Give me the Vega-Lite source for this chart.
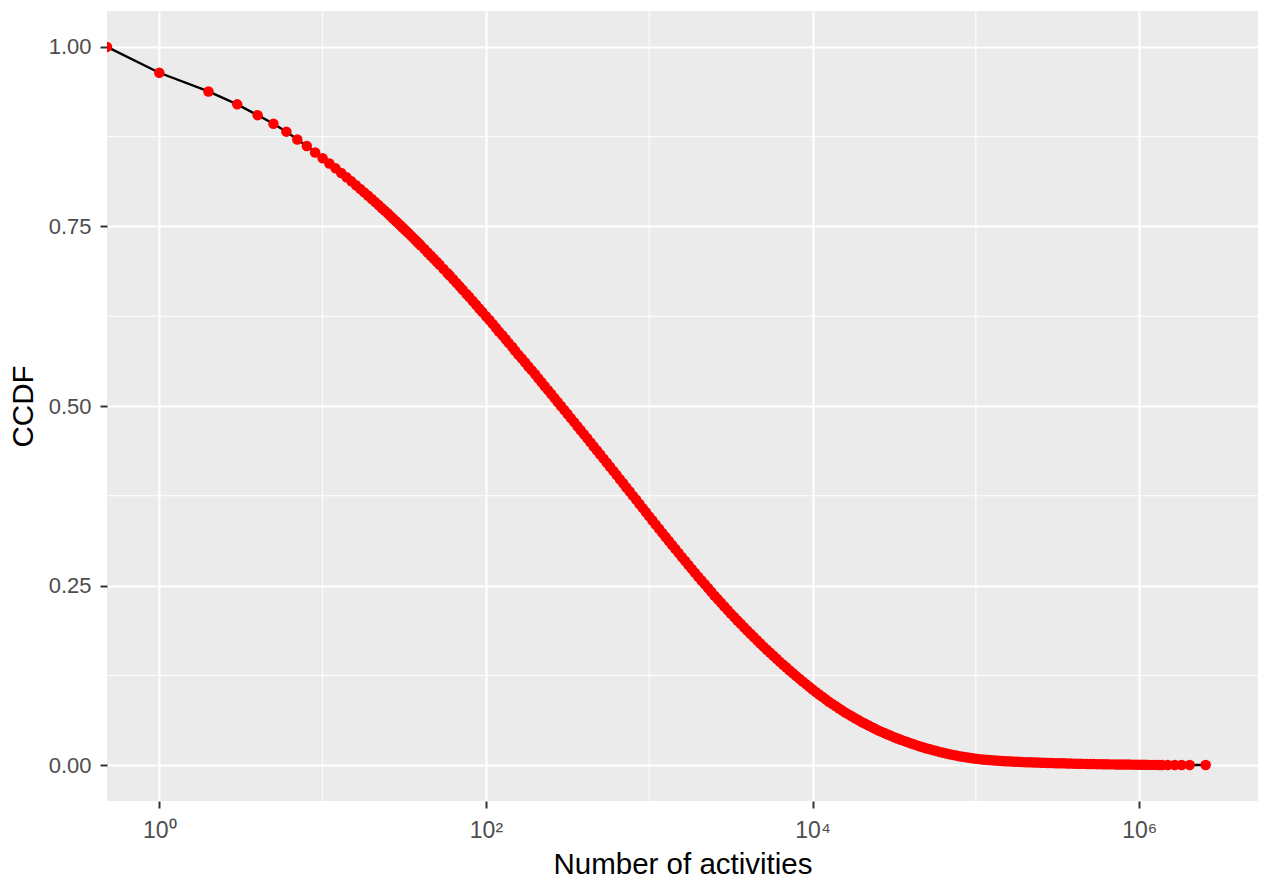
{
"$schema":"https://vega.github.io/schema/vega-lite/v6.json",
"width":1151,"height":790,
"autosize":{"type":"none"},
"padding":{"left":107,"top":11,"right":7,"bottom":78},
"background":"#FFFFFF",
"datasets":{
"ccdf":[
{"n":0.4783,"ccdf":1},{"n":1,"ccdf":0.964},{"n":2,"ccdf":0.938},{"n":3,"ccdf":0.92},{"n":4,"ccdf":0.905},{"n":5,"ccdf":0.893},{"n":6,"ccdf":0.882},{"n":7,"ccdf":0.871},{"n":8,"ccdf":0.862},{"n":9,"ccdf":0.853},{"n":10,"ccdf":0.845},
{"n":11,"ccdf":0.8377},{"n":12,"ccdf":0.8309},{"n":13,"ccdf":0.8245},{"n":14,"ccdf":0.8185},{"n":15,"ccdf":0.8128},{"n":16,"ccdf":0.8074},{"n":17,"ccdf":0.8023},{"n":18,"ccdf":0.7974},{"n":19,"ccdf":0.7927},{"n":20,"ccdf":0.7882},
{"n":21,"ccdf":0.7839},{"n":22,"ccdf":0.7798},{"n":23,"ccdf":0.7758},{"n":24,"ccdf":0.772},{"n":25,"ccdf":0.7683},{"n":26,"ccdf":0.7646},{"n":27,"ccdf":0.7611},{"n":28,"ccdf":0.7577},{"n":29,"ccdf":0.7545},{"n":30,"ccdf":0.7513},
{"n":31,"ccdf":0.7481},{"n":32,"ccdf":0.7451},{"n":33,"ccdf":0.7422},{"n":34,"ccdf":0.7393},{"n":35,"ccdf":0.7365},{"n":36,"ccdf":0.7337},{"n":37,"ccdf":0.731},{"n":38,"ccdf":0.7284},{"n":39,"ccdf":0.7258},{"n":40,"ccdf":0.7233},
{"n":42,"ccdf":0.7185},{"n":44,"ccdf":0.7138},{"n":46,"ccdf":0.7092},{"n":48,"ccdf":0.7049},{"n":50,"ccdf":0.7007},{"n":52,"ccdf":0.6966},{"n":55,"ccdf":0.6908},{"n":58,"ccdf":0.6852},{"n":60,"ccdf":0.6816},{"n":63,"ccdf":0.6764},
{"n":66,"ccdf":0.6714},{"n":69,"ccdf":0.6666},{"n":72,"ccdf":0.6619},{"n":76,"ccdf":0.656},{"n":79,"ccdf":0.6517},{"n":83,"ccdf":0.6461},{"n":87,"ccdf":0.6409},{"n":91,"ccdf":0.6358},{"n":95,"ccdf":0.6309},{"n":100,"ccdf":0.625},
{"n":105,"ccdf":0.6197},{"n":110,"ccdf":0.6143},{"n":115,"ccdf":0.609},{"n":120,"ccdf":0.6037},{"n":126,"ccdf":0.5984},{"n":132,"ccdf":0.593},{"n":138,"ccdf":0.5876},{"n":145,"ccdf":0.5822},{"n":151,"ccdf":0.5768},{"n":158,"ccdf":0.5714},
{"n":166,"ccdf":0.566},{"n":174,"ccdf":0.5605},{"n":182,"ccdf":0.5551},{"n":191,"ccdf":0.5496},{"n":200,"ccdf":0.5442},{"n":209,"ccdf":0.5386},{"n":219,"ccdf":0.5331},{"n":229,"ccdf":0.5276},{"n":240,"ccdf":0.5221},{"n":251,"ccdf":0.5166},
{"n":263,"ccdf":0.511},{"n":275,"ccdf":0.5055},{"n":288,"ccdf":0.4999},{"n":302,"ccdf":0.4943},{"n":316,"ccdf":0.4888},{"n":331,"ccdf":0.4831},{"n":347,"ccdf":0.4775},{"n":363,"ccdf":0.4719},{"n":380,"ccdf":0.4663},{"n":398,"ccdf":0.4607},
{"n":417,"ccdf":0.455},{"n":437,"ccdf":0.4493},{"n":457,"ccdf":0.4437},{"n":479,"ccdf":0.438},{"n":501,"ccdf":0.4324},{"n":525,"ccdf":0.4267},{"n":550,"ccdf":0.421},{"n":575,"ccdf":0.4153},{"n":603,"ccdf":0.4096},{"n":631,"ccdf":0.4039},
{"n":661,"ccdf":0.3981},{"n":692,"ccdf":0.3924},{"n":724,"ccdf":0.3866},{"n":759,"ccdf":0.3809},{"n":794,"ccdf":0.3752},{"n":832,"ccdf":0.3694},{"n":871,"ccdf":0.3636},{"n":912,"ccdf":0.3578},{"n":955,"ccdf":0.352},{"n":1000,"ccdf":0.3463},
{"n":1047,"ccdf":0.3405},{"n":1096,"ccdf":0.3348},{"n":1148,"ccdf":0.329},{"n":1202,"ccdf":0.3233},{"n":1259,"ccdf":0.3176},{"n":1318,"ccdf":0.312},{"n":1380,"ccdf":0.3064},{"n":1445,"ccdf":0.3008},{"n":1514,"ccdf":0.2952},{"n":1585,"ccdf":0.2896},
{"n":1660,"ccdf":0.2841},{"n":1738,"ccdf":0.2787},{"n":1820,"ccdf":0.2732},{"n":1905,"ccdf":0.2677},{"n":1995,"ccdf":0.2623},{"n":2089,"ccdf":0.257},{"n":2188,"ccdf":0.2517},{"n":2291,"ccdf":0.2465},{"n":2399,"ccdf":0.2412},{"n":2512,"ccdf":0.2359},
{"n":2630,"ccdf":0.2309},{"n":2754,"ccdf":0.2259},{"n":2884,"ccdf":0.2209},{"n":3020,"ccdf":0.2159},{"n":3162,"ccdf":0.2109},{"n":3311,"ccdf":0.2062},{"n":3467,"ccdf":0.2014},{"n":3631,"ccdf":0.1967},{"n":3802,"ccdf":0.192},{"n":3981,"ccdf":0.1873},
{"n":4169,"ccdf":0.1828},{"n":4365,"ccdf":0.1783},{"n":4571,"ccdf":0.1738},{"n":4786,"ccdf":0.1694},{"n":5012,"ccdf":0.1649},{"n":5248,"ccdf":0.1607},{"n":5495,"ccdf":0.1564},{"n":5754,"ccdf":0.1522},{"n":6026,"ccdf":0.148},{"n":6310,"ccdf":0.1437},
{"n":6607,"ccdf":0.1398},{"n":6918,"ccdf":0.1358},{"n":7244,"ccdf":0.1318},{"n":7586,"ccdf":0.1279},{"n":7943,"ccdf":0.1239},{"n":8318,"ccdf":0.1201},{"n":8710,"ccdf":0.1164},{"n":9120,"ccdf":0.1127},{"n":9550,"ccdf":0.109},{"n":10000,"ccdf":0.1052},
{"n":10471,"ccdf":0.1018},{"n":10965,"ccdf":0.0984},{"n":11482,"ccdf":0.095},{"n":12023,"ccdf":0.0916},{"n":12589,"ccdf":0.0882},{"n":13183,"ccdf":0.0852},{"n":13804,"ccdf":0.0822},{"n":14454,"ccdf":0.0792},{"n":15136,"ccdf":0.0762},{"n":15849,"ccdf":0.0732},
{"n":16596,"ccdf":0.0706},{"n":17378,"ccdf":0.068},{"n":18197,"ccdf":0.0653},{"n":19055,"ccdf":0.0627},{"n":19953,"ccdf":0.0601},{"n":20893,"ccdf":0.0578},{"n":21878,"ccdf":0.0555},{"n":22909,"ccdf":0.0532},{"n":23988,"ccdf":0.0509},{"n":25119,"ccdf":0.0486},
{"n":26303,"ccdf":0.0466},{"n":27542,"ccdf":0.0447},{"n":28840,"ccdf":0.0427},{"n":30200,"ccdf":0.0407},{"n":31623,"ccdf":0.0387},{"n":33113,"ccdf":0.037},{"n":34674,"ccdf":0.0354},{"n":36308,"ccdf":0.0337},{"n":38019,"ccdf":0.032},{"n":39811,"ccdf":0.0303},
{"n":41687,"ccdf":0.0289},{"n":43652,"ccdf":0.0274},{"n":45709,"ccdf":0.026},{"n":47863,"ccdf":0.0245},{"n":50119,"ccdf":0.0231},{"n":52481,"ccdf":0.0219},{"n":54954,"ccdf":0.0207},{"n":57544,"ccdf":0.0195},{"n":60256,"ccdf":0.0183},{"n":63096,"ccdf":0.0171},
{"n":66069,"ccdf":0.0162},{"n":69183,"ccdf":0.0152},{"n":72444,"ccdf":0.0142},{"n":75858,"ccdf":0.0133},{"n":79433,"ccdf":0.0123},{"n":83176,"ccdf":0.0116},{"n":87096,"ccdf":0.0109},{"n":91201,"ccdf":0.0102},{"n":95499,"ccdf":0.0094},{"n":100000,"ccdf":0.0087},
{"n":104713,"ccdf":0.0083},{"n":109648,"ccdf":0.0078},{"n":114815,"ccdf":0.0074},{"n":120226,"ccdf":0.007},{"n":125893,"ccdf":0.0066},{"n":131826,"ccdf":0.0063},{"n":138038,"ccdf":0.006},{"n":144544,"ccdf":0.0057},{"n":151356,"ccdf":0.0054},{"n":158489,"ccdf":0.0052},
{"n":165959,"ccdf":0.0049},{"n":173780,"ccdf":0.0047},{"n":181970,"ccdf":0.0045},{"n":190546,"ccdf":0.0043},{"n":199526,"ccdf":0.0041},{"n":208930,"ccdf":0.0039},{"n":218776,"ccdf":0.0038},{"n":229087,"ccdf":0.0036},{"n":239883,"ccdf":0.0035},{"n":251189,"ccdf":0.0033},
{"n":263027,"ccdf":0.0032},{"n":275423,"ccdf":0.003},{"n":288403,"ccdf":0.0029},{"n":301995,"ccdf":0.0027},{"n":316228,"ccdf":0.0026},{"n":331131,"ccdf":0.0025},{"n":346737,"ccdf":0.0024},{"n":363078,"ccdf":0.0022},{"n":380189,"ccdf":0.0021},{"n":398107,"ccdf":0.002},
{"n":416869,"ccdf":0.0019},{"n":436516,"ccdf":0.0018},{"n":457088,"ccdf":0.0017},{"n":478630,"ccdf":0.0016},{"n":501187,"ccdf":0.0015},{"n":524807,"ccdf":0.0014},{"n":549541,"ccdf":0.0013},{"n":575440,"ccdf":0.0013},{"n":602560,"ccdf":0.0012},{"n":630957,"ccdf":0.0011},
{"n":660693,"ccdf":0.001},{"n":691831,"ccdf":0.001},{"n":724436,"ccdf":0.0009},{"n":758578,"ccdf":0.0009},{"n":794328,"ccdf":0.0008},{"n":831764,"ccdf":0.0007},{"n":870964,"ccdf":0.0007},{"n":912011,"ccdf":0.0006},{"n":954993,"ccdf":0.0006},{"n":1000000,"ccdf":0.0005},
{"n":1047129,"ccdf":0.0004},{"n":1096478,"ccdf":0.0004},{"n":1148154,"ccdf":0.0003},{"n":1202264,"ccdf":0.0003},{"n":1258925,"ccdf":0.0003},{"n":1318257,"ccdf":0.0002},{"n":1380384,"ccdf":0.0002},
{"n":1496000,"ccdf":0.0002},{"n":1652000,"ccdf":0.0001},{"n":1821000,"ccdf":0.0001},{"n":2037000,"ccdf":0.0001},{"n":2553000,"ccdf":0.00005}
],
"minorx":[{"v":10},{"v":1000},{"v":100000}],
"minory":[{"v":0.125},{"v":0.375},{"v":0.625},{"v":0.875}]
},
"layer":[
{"data":{"name":"minorx"},"mark":{"type":"rule","color":"#FFFFFF","strokeWidth":1},
 "encoding":{"x":{"field":"v","type":"quantitative","scale":{"type":"log","domain":[0.4783,5339000],"nice":false}}}},
{"data":{"name":"minory"},"mark":{"type":"rule","color":"#FFFFFF","strokeWidth":1},
 "encoding":{"y":{"field":"v","type":"quantitative","scale":{"domain":[-0.05,1.05],"nice":false,"zero":false}}}},
{"data":{"name":"ccdf"},"mark":{"type":"line","color":"#000000","strokeWidth":2.4,"clip":true},
 "encoding":{
  "x":{"field":"n","type":"quantitative","sort":null,"scale":{"type":"log","domain":[0.4783,5339000],"nice":false},
   "axis":{"values":[1,100,10000,1000000],"labelExpr":"datum.value==1?'10⁰':datum.value==100?'10²':datum.value==10000?'10⁴':'10⁶'","title":"Number of activities","labelPadding":11,"titlePadding":8,"labelFontSize":23}},
  "y":{"field":"ccdf","type":"quantitative","scale":{"domain":[-0.05,1.05],"nice":false,"zero":false},
   "axis":{"values":[0,0.25,0.5,0.75,1],"format":".2f","title":"CCDF","labelPadding":9,"titlePadding":10}}}},
{"data":{"name":"ccdf"},"mark":{"type":"point","filled":true,"color":"#FF0000","opacity":1,"size":110,"clip":true},
 "encoding":{
  "x":{"field":"n","type":"quantitative"},
  "y":{"field":"ccdf","type":"quantitative"}}}
],
"config":{
 "view":{"fill":"#EBEBEB","stroke":null},
 "axis":{"domain":false,"grid":true,"gridColor":"#FFFFFF","gridWidth":2,"tickColor":"#333333","tickWidth":2,"tickSize":7,
  "labelColor":"#4D4D4D","labelFont":"Liberation Sans","labelFontSize":22,
  "titleFont":"Liberation Sans","titleFontSize":29.5,"titleFontWeight":"normal","titleColor":"#000000","labelFlush":false,"labelOverlap":false}
}
}
